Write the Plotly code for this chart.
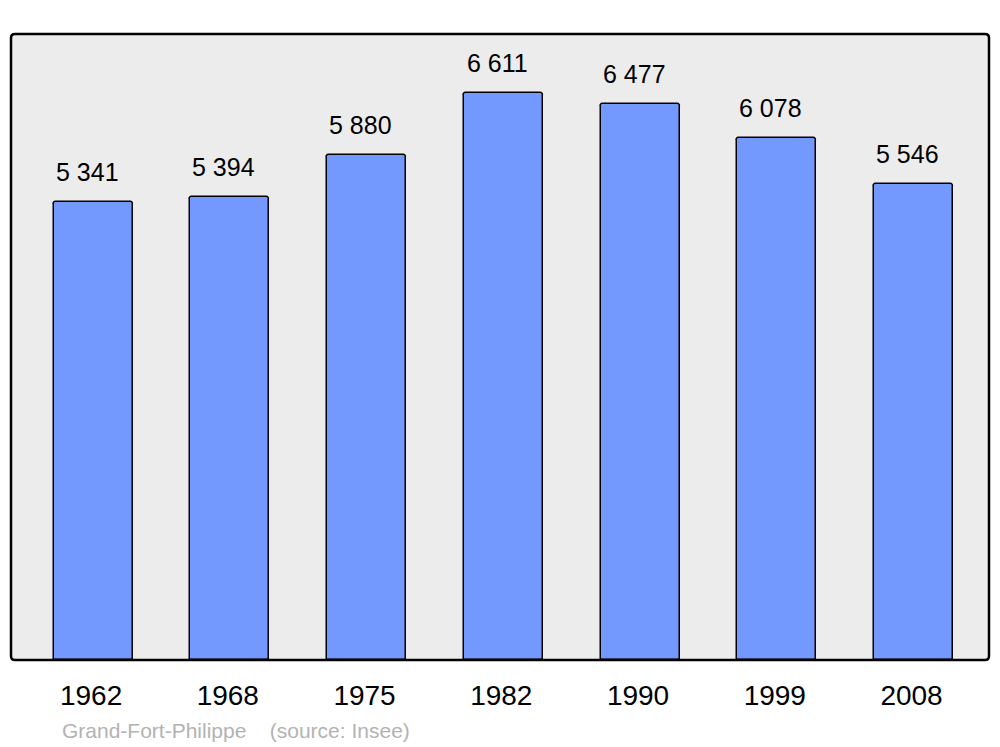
import plotly.graph_objects as go

years = ["1962", "1968", "1975", "1982", "1990", "1999", "2008"]
population = [5341, 5394, 5880, 6611, 6477, 6078, 5546]
source_text = "Grand-Fort-Philippe    (source: Insee)"

def fmt(v):
    return f"{v:,}".replace(",", " ")

FONT = "Liberation Sans, Arial, sans-serif"

fig = go.Figure()
fig.add_trace(go.Bar(
    x=list(range(len(years))),
    y=population,
    width=0.578,
    marker=dict(color="#7399ff", line=dict(color="#000000", width=1.5), cornerradius=3),
    hoverinfo="skip",
))

for i, v in enumerate(population):
    fig.add_annotation(x=i, y=v, text=fmt(v), showarrow=False, xref="x", yref="y",
                       yanchor="bottom", yshift=14, xshift=-6,
                       font=dict(family=FONT, size=25, color="#000000"))

w, h = 978.0, 626.0
fig.add_annotation(x=(60 - 11) / w, y=-(730 - 660) / h, xref="paper", yref="paper",
                   text=source_text, showarrow=False, xanchor="left", yanchor="middle",
                   font=dict(family=FONT, size=21, color="#b3b3b3"))

# rounded border
r = 4.0
rx, ry = r / w, r / h
path = (f"M {rx},0 L {1-rx},0 Q 1,0 1,{ry} L 1,{1-ry} Q 1,1 {1-rx},1 "
        f"L {rx},1 Q 0,1 0,{1-ry} L 0,{ry} Q 0,0 {rx},0 Z")
fig.add_shape(type="path", path=path, xref="paper", yref="paper",
              line=dict(color="#000000", width=2.5), fillcolor="rgba(0,0,0,0)", layer="above")
fig.add_shape(type="path", path=path, xref="paper", yref="paper",
              line=dict(width=0), fillcolor="#ececec", layer="below")

fig.update_layout(
    width=1000, height=747,
    margin=dict(l=3, r=19, t=26, b=95),
    paper_bgcolor="#ffffff",
    plot_bgcolor="rgba(0,0,0,0)",
    showlegend=False,
    bargap=0,
    xaxis=dict(
        range=[-0.6, 6.552],
        tickmode="array", tickvals=list(range(len(years))), ticktext=years,
        showgrid=False, zeroline=False, showline=False, ticks="",
        ticklabelstandoff=16, ticklabelshift=-2,
        tickfont=dict(family=FONT, size=28, color="#000000"),
        fixedrange=True,
    ),
    yaxis=dict(range=[0, 7293], visible=False, showgrid=False, zeroline=False, fixedrange=True),
)

fig.write_html("out.html")
